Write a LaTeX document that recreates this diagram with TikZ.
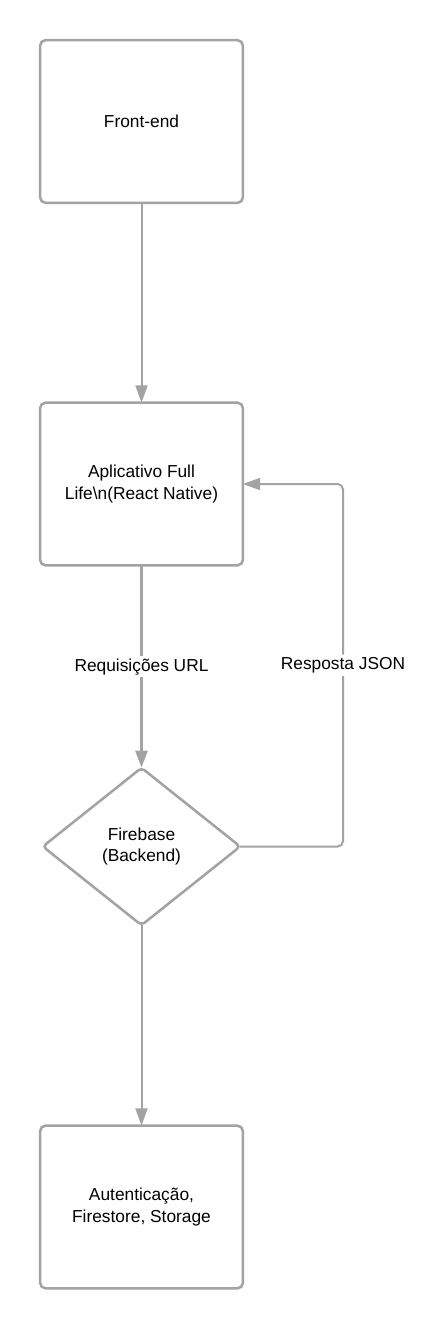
\documentclass[tikz,border=0pt]{standalone}
\usepackage{fontspec}
\setmainfont{Liberation Sans}
\usepackage{tikz}
\usetikzlibrary{positioning,shapes.geometric,arrows.meta}
\definecolor{linegray}{RGB}{163,163,163}

\begin{document}
\begin{tikzpicture}[x=0.75pt, y=-0.75pt, every node/.style={font=\fontsize{13}{16}\selectfont, text=black}]
\tikzset{
  stagebox/.style={draw=linegray, line width=1.9pt, rounded corners=4pt, fill=white,
    minimum width=152pt, minimum height=122pt, align=center, outer sep=0pt},
  backend/.style={draw=linegray, line width=1.9pt, rounded corners=3pt, fill=white,
    diamond, minimum width=148pt, minimum height=118pt, align=center, outer sep=0pt, inner sep=1pt},
  flow/.style={draw=linegray, line width=1.5pt, -{Triangle[length=13pt, width=9pt]}},
  lbl/.style={fill=white, inner sep=2pt}
}
\useasboundingbox (0,0) rectangle (447,1329);

% Boxes
\node[stagebox] (front) at (141.5, 121.5) {Front-end};
\node[stagebox] (app) at (141.5, 484) {Aplicativo Full\\Life\textbackslash n(React Native)};
\node[backend] (fb) at (141.5, 846.5) {Firebase\\(Backend)};
\node[stagebox] (svc) at (141.5, 1207) {Autentica\c{c}\~ao,\\Firestore, Storage};

% Feedback corner
\coordinate (jsonturn) at (343, 484);

% Arrows
\draw[flow] (front) -- (app);
\draw[flow, line width=2.3pt] (app) -- node[lbl] {Requisi\c{c}\~oes URL} (fb);
\draw[flow, rounded corners=4pt] (fb.east) -| node[lbl, pos=0.75] {Resposta JSON} (jsonturn) -- (app.east);
\draw[flow] (fb) -- (svc);
\end{tikzpicture}
\end{document}
